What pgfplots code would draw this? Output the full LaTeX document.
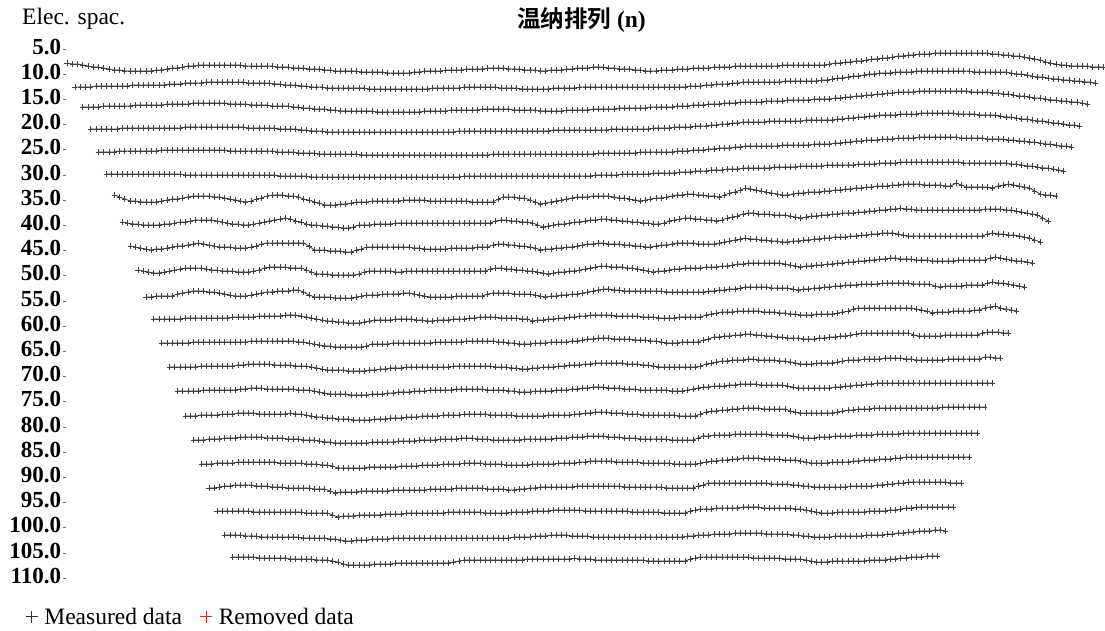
\documentclass[border=0pt]{standalone}
\usepackage{pgfplots}
\pgfplotsset{compat=1.18}
\usepackage{fontspec}
\setmainfont{Liberation Serif}
\newfontfamily\cjk{Noto Sans CJK SC}[BoldFont={Noto Sans CJK SC Bold}]
\definecolor{remred}{RGB}{214,40,40}
\newcommand{\fs}{\fontsize{23.5}{28}\selectfont}
\pgfplotsset{
  rowline/.style={color=black!85, line width=0.7pt, mark=+, mark size=2.6pt,
    mark options={line width=0.75pt, color=black!75}, forget plot},
  /pgfplots/table/rowtab/.style={/pgfplots/table/row sep=\\, /pgfplots/table/header=false,
    /pgfplots/table/y expr={5+(\thisrowno{0}-49)/5.04}},
}
\begin{document}
\begin{tikzpicture}
\useasboundingbox (0,0) rectangle (1105pt,630pt);
\begin{axis}[
  at={(63pt,40pt)}, anchor=south west,
  scale only axis, width=1042pt, height=550pt,
  xmin=-0.7605, xmax=197.338,
  ymin=3.2143, ymax=112.341,
  y dir=reverse,
  clip=false,
  axis line style={draw=none},
  xtick=\empty,
  ytick={5,10,...,110},
  tick pos=left, tick align=inside,
  major tick length=3.5pt,
  y tick style={black!55, line width=0.8pt},
  yticklabel style={font=\fontsize{23}{27}\selectfont\bfseries, yshift=2.3pt, xshift=1.7pt,
    /pgf/number format/.cd, fixed, fixed zerofill, precision=1, assume math mode=true},
  legend style={draw=none, fill=none, inner sep=0pt,
    at={(axis description cs:-0.0359,-0.04855)}, anchor=west,
    legend columns=2, font=\fs,
    /tikz/every odd column/.append style={column sep=4.6pt},
    /tikz/every even column/.append style={column sep=16.1pt}},
  legend cell align=left,
  legend image code/.code={\draw[#1] plot[mark=+, mark size=6pt, mark options={line width=0.8pt}] coordinates {(0pt,0pt)};},
]
\addlegendimage{black!80}
\addlegendentry{Measured data}
\addlegendimage{remred}
\addlegendentry{Removed data}

% row 1 (n=1)
\addplot[rowline] table[rowtab, x expr=\coordindex] {
63\\64\\64\\65\\66\\67\\67\\68\\69\\70\\70\\71\\71\\71\\71\\71\\71\\70\\70\\69\\68\\68\\67\\66\\66\\65\\
65\\65\\65\\65\\65\\65\\65\\65\\66\\66\\66\\66\\66\\66\\67\\67\\67\\68\\68\\68\\69\\69\\69\\70\\70\\71\\71\\
71\\71\\71\\72\\72\\72\\72\\72\\73\\73\\73\\73\\73\\72\\72\\71\\71\\71\\71\\70\\70\\70\\70\\69\\69\\69\\69\\68\\68\\68\\
68\\69\\69\\69\\70\\70\\70\\71\\71\\70\\70\\70\\69\\69\\68\\68\\68\\67\\67\\67\\68\\68\\69\\69\\69\\70\\70\\71\\71\\
71\\70\\70\\70\\69\\69\\69\\68\\68\\68\\68\\67\\67\\67\\67\\66\\66\\66\\66\\66\\66\\66\\66\\66\\65\\65\\65\\65\\65\\65\\65\\65\\65\\
64\\63\\63\\62\\62\\61\\61\\60\\59\\59\\58\\58\\57\\56\\56\\55\\55\\54\\54\\54\\53\\53\\53\\53\\53\\53\\53\\53\\53\\53\\
53\\54\\54\\55\\55\\56\\56\\57\\58\\59\\60\\62\\63\\64\\65\\65\\66\\66\\66\\66\\67\\67\\67\\
};
% row 2
\addplot[rowline] table[rowtab, x expr=\coordindex+1.5] {
87\\87\\87\\87\\86\\86\\86\\86\\86\\86\\86\\85\\85\\85\\85\\85\\
85\\85\\84\\84\\84\\83\\83\\83\\83\\82\\82\\82\\
82\\82\\82\\82\\82\\83\\83\\83\\83\\
83\\84\\84\\85\\85\\85\\86\\86\\87\\87\\87\\88\\
88\\88\\88\\88\\88\\88\\88\\89\\89\\89\\89\\89\\89\\89\\89\\
89\\89\\89\\89\\88\\88\\88\\88\\88\\88\\87\\87\\87\\87\\
87\\87\\87\\88\\88\\88\\88\\89\\89\\89\\
89\\89\\89\\88\\88\\88\\88\\88\\87\\87\\87\\87\\
87\\87\\87\\87\\87\\87\\87\\87\\87\\87\\87\\87\\87\\87\\87\\87\\
87\\86\\86\\86\\85\\85\\84\\84\\84\\83\\83\\82\\82\\
82\\82\\82\\82\\82\\82\\81\\81\\81\\81\\81\\81\\81\\
80\\80\\79\\78\\78\\77\\76\\76\\75\\74\\74\\73\\
73\\73\\72\\72\\72\\72\\71\\71\\71\\71\\
71\\71\\71\\71\\71\\71\\71\\72\\72\\72\\72\\72\\72\\
72\\73\\74\\74\\75\\76\\77\\77\\78\\
79\\79\\80\\80\\81\\81\\82\\82\\83\\
};
% row 3
\addplot[rowline] table[rowtab, x expr=\coordindex+3] {
107\\107\\107\\107\\106\\106\\106\\106\\106\\106\\105\\105\\105\\105\\105\\
105\\104\\104\\104\\104\\104\\103\\103\\103\\103\\103\\
103\\103\\104\\104\\104\\104\\105\\105\\105\\105\\106\\106\\106\\106\\107\\
107\\108\\108\\109\\109\\109\\110\\110\\111\\
111\\111\\111\\111\\111\\111\\112\\112\\112\\112\\112\\112\\112\\
112\\112\\111\\111\\111\\111\\111\\110\\110\\110\\110\\110\\110\\109\\109\\109\\109\\
109\\109\\110\\110\\110\\110\\110\\111\\111\\
111\\111\\111\\110\\110\\110\\110\\110\\109\\109\\109\\109\\109\\108\\108\\108\\108\\108\\108\\107\\107\\107\\107\\
107\\106\\106\\106\\105\\105\\105\\104\\104\\104\\103\\103\\103\\102\\102\\102\\
102\\102\\101\\101\\101\\101\\100\\100\\100\\100\\100\\99\\99\\99\\99\\
98\\98\\97\\97\\96\\96\\95\\95\\94\\94\\93\\
93\\92\\92\\92\\92\\91\\91\\91\\91\\91\\91\\91\\
91\\91\\91\\92\\92\\92\\92\\93\\93\\
94\\94\\95\\96\\96\\97\\98\\98\\99\\100\\
100\\101\\101\\102\\102\\103\\104\\
};
% row 4
\addplot[rowline] table[rowtab, x expr=\coordindex+4.5] {
129\\129\\129\\129\\129\\129\\128\\128\\128\\128\\128\\128\\128\\128\\
128\\128\\128\\128\\127\\127\\127\\127\\127\\127\\127\\127\\127\\
127\\127\\127\\128\\128\\128\\128\\128\\128\\129\\129\\129\\
129\\130\\130\\131\\131\\131\\132\\
132\\132\\132\\132\\132\\132\\132\\132\\132\\132\\132\\132\\132\\132\\132\\132\\
132\\132\\132\\132\\132\\132\\132\\132\\131\\131\\131\\131\\131\\131\\131\\131\\131\\131\\131\\131\\
131\\131\\131\\131\\131\\131\\130\\130\\130\\130\\130\\130\\130\\130\\130\\130\\130\\129\\129\\129\\129\\129\\
129\\129\\129\\128\\128\\128\\128\\127\\127\\127\\127\\126\\126\\
126\\125\\125\\124\\124\\123\\123\\122\\122\\
122\\122\\122\\121\\121\\121\\121\\121\\121\\121\\120\\120\\120\\120\\120\\120\\
119\\119\\118\\118\\117\\117\\116\\116\\115\\115\\
115\\115\\114\\114\\114\\114\\113\\113\\113\\113\\
113\\113\\113\\114\\114\\114\\114\\115\\115\\115\\
115\\116\\117\\117\\118\\119\\119\\120\\
121\\121\\122\\123\\123\\124\\125\\125\\126\\
};
% row 5
\addplot[rowline] table[rowtab, x expr=\coordindex+6] {
152\\152\\152\\152\\151\\151\\151\\151\\151\\151\\151\\151\\150\\150\\150\\150\\150\\150\\150\\
150\\150\\150\\150\\150\\150\\151\\151\\151\\151\\151\\151\\151\\
151\\151\\152\\152\\152\\152\\153\\153\\153\\153\\154\\154\\
154\\154\\154\\154\\154\\154\\155\\155\\155\\155\\155\\155\\155\\155\\155\\155\\
155\\155\\155\\155\\155\\155\\155\\155\\155\\155\\155\\155\\155\\155\\155\\
154\\154\\154\\154\\154\\154\\154\\154\\154\\154\\154\\154\\154\\154\\154\\
154\\154\\154\\154\\154\\153\\153\\153\\153\\153\\153\\153\\153\\152\\152\\152\\152\\152\\152\\
152\\151\\151\\151\\150\\150\\150\\149\\149\\148\\148\\148\\147\\147\\146\\146\\
146\\146\\146\\146\\146\\145\\145\\145\\145\\145\\145\\144\\144\\144\\
144\\143\\143\\142\\142\\141\\141\\140\\140\\140\\139\\
139\\139\\138\\138\\138\\138\\137\\137\\137\\137\\
137\\137\\137\\137\\138\\138\\138\\138\\138\\139\\139\\139\\
139\\140\\140\\141\\141\\142\\142\\143\\144\\144\\145\\146\\146\\147\\
};
% row 6
\addplot[rowline] table[rowtab, x expr=\coordindex+7.5] {
174\\174\\174\\174\\174\\174\\174\\174\\174\\174\\174\\174\\174\\174\\174\\
175\\175\\175\\175\\175\\175\\175\\175\\175\\175\\175\\175\\175\\175\\175\\
175\\175\\175\\176\\176\\176\\176\\176\\176\\177\\177\\177\\177\\
177\\177\\177\\177\\177\\177\\177\\177\\177\\177\\177\\177\\177\\177\\177\\177\\177\\177\\177\\177\\177\\177\\177\\177\\177\\
176\\176\\176\\176\\176\\176\\176\\176\\176\\176\\176\\176\\176\\176\\176\\176\\176\\176\\176\\176\\176\\
176\\176\\176\\176\\175\\175\\175\\175\\175\\174\\174\\174\\174\\174\\174\\173\\173\\173\\173\\
173\\172\\172\\172\\171\\171\\171\\170\\170\\170\\169\\169\\169\\168\\168\\
168\\168\\168\\168\\167\\167\\167\\167\\167\\166\\166\\166\\166\\166\\165\\165\\165\\165\\165\\
165\\164\\164\\164\\164\\163\\163\\163\\163\\162\\162\\162\\162\\
162\\162\\162\\162\\162\\162\\162\\162\\163\\163\\163\\163\\163\\163\\163\\163\\
163\\164\\164\\165\\166\\166\\167\\168\\168\\169\\170\\171\\
};
% row 7
\addplot[rowline] table[rowtab, x expr=\coordindex+9] {
195\\197\\199\\201\\201\\202\\202\\202\\202\\
201\\200\\199\\199\\198\\197\\196\\196\\196\\196\\197\\197\\
198\\199\\200\\201\\202\\201\\199\\198\\196\\195\\195\\195\\196\\196\\
197\\199\\200\\202\\203\\205\\205\\205\\204\\204\\203\\202\\
202\\202\\201\\201\\201\\201\\201\\201\\200\\200\\
200\\200\\200\\201\\201\\201\\201\\201\\201\\201\\201\\202\\202\\202\\202\\202\\
199\\197\\197\\197\\198\\198\\200\\202\\204\\
203\\202\\201\\200\\199\\198\\197\\197\\197\\196\\196\\196\\196\\
197\\198\\198\\199\\200\\201\\200\\199\\198\\198\\197\\
196\\195\\195\\194\\194\\195\\195\\196\\196\\197\\
195\\193\\192\\190\\188\\189\\190\\191\\192\\193\\194\\195\\195\\
194\\193\\193\\192\\192\\192\\191\\191\\190\\190\\189\\189\\188\\188\\187\\
187\\186\\186\\186\\185\\185\\184\\184\\184\\184\\185\\185\\185\\185\\186\\186\\
183\\185\\187\\187\\187\\187\\187\\188\\186\\185\\184\\185\\186\\187\\188\\
191\\194\\195\\195\\196\\
};
% row 8
\addplot[rowline] table[rowtab, x expr=\coordindex+10.5] {
222\\223\\224\\224\\225\\225\\225\\225\\
224\\224\\223\\222\\222\\221\\220\\220\\
220\\220\\221\\222\\223\\224\\224\\225\\225\\
224\\223\\222\\221\\220\\219\\218\\219\\221\\222\\224\\225\\
225\\226\\226\\227\\227\\228\\228\\227\\225\\
225\\225\\224\\224\\224\\224\\223\\223\\223\\223\\
223\\223\\223\\223\\223\\223\\223\\223\\223\\223\\223\\223\\223\\223\\223\\
221\\220\\220\\221\\221\\222\\222\\223\\225\\227\\
226\\225\\224\\224\\223\\222\\222\\221\\220\\220\\219\\
219\\220\\220\\221\\221\\222\\222\\223\\223\\224\\224\\
223\\221\\220\\219\\218\\218\\219\\219\\220\\220\\221\\
220\\218\\217\\216\\214\\213\\213\\214\\214\\214\\215\\215\\215\\
216\\217\\218\\217\\216\\216\\215\\215\\214\\
214\\213\\213\\213\\212\\212\\211\\211\\210\\210\\
209\\209\\208\\209\\209\\210\\
210\\210\\210\\210\\210\\210\\210\\210\\
210\\210\\210\\210\\209\\209\\209\\209\\
210\\210\\211\\212\\213\\214\\215\\218\\221\\
};
% row 9
\addplot[rowline] table[rowtab, x expr=\coordindex+12] {
246\\247\\248\\249\\250\\
249\\249\\248\\247\\246\\246\\245\\244\\243\\
244\\245\\246\\247\\247\\247\\248\\248\\248\\
247\\246\\244\\243\\243\\243\\243\\243\\243\\243\\243\\
246\\250\\250\\250\\251\\251\\251\\252\\252\\250\\249\\247\\
247\\247\\247\\247\\247\\247\\247\\247\\
248\\248\\249\\249\\249\\249\\249\\248\\248\\248\\248\\248\\247\\247\\247\\
245\\244\\244\\245\\245\\246\\246\\247\\248\\250\\
249\\249\\248\\248\\247\\247\\246\\245\\244\\244\\243\\
243\\244\\244\\244\\245\\245\\246\\246\\247\\247\\
246\\245\\245\\244\\243\\243\\243\\243\\244\\244\\244\\244\\
243\\242\\241\\240\\239\\238\\239\\239\\240\\240\\241\\241\\242\\242\\
241\\241\\240\\240\\239\\239\\238\\238\\237\\237\\237\\
236\\236\\235\\235\\234\\234\\233\\233\\233\\234\\235\\236\\
236\\236\\236\\236\\236\\236\\236\\236\\236\\236\\236\\236\\236\\236\\
234\\233\\234\\234\\235\\235\\236\\237\\238\\240\\242\\
};
% row 10
\addplot[rowline] table[rowtab, x expr=\coordindex+13.5] {
270\\271\\272\\273\\273\\272\\271\\270\\269\\268\\268\\268\\
268\\269\\270\\270\\271\\271\\271\\272\\272\\272\\
271\\270\\268\\267\\267\\267\\267\\268\\268\\268\\
270\\272\\274\\274\\274\\275\\275\\275\\275\\275\\274\\272\\271\\
271\\271\\271\\271\\272\\272\\271\\271\\
271\\271\\271\\271\\271\\271\\271\\271\\271\\271\\271\\271\\271\\271\\
269\\268\\268\\269\\269\\270\\270\\271\\271\\272\\273\\274\\
273\\272\\272\\271\\271\\270\\269\\268\\267\\266\\
266\\267\\267\\267\\268\\268\\269\\270\\271\\272\\
271\\271\\270\\269\\269\\268\\268\\268\\268\\267\\267\\267\\
266\\266\\265\\264\\264\\263\\263\\263\\263\\263\\263\\263\\
264\\265\\266\\267\\266\\266\\265\\265\\264\\264\\263\\263\\262\\
262\\261\\261\\260\\260\\259\\259\\258\\
258\\259\\259\\259\\260\\260\\260\\261\\261\\
261\\261\\261\\260\\260\\260\\260\\260\\260\\
258\\257\\258\\259\\260\\261\\261\\262\\263\\
};
% row 11
\addplot[rowline] table[rowtab, x expr=\coordindex+15] {
297\\297\\296\\296\\296\\296\\294\\293\\292\\291\\291\\291\\292\\292\\
293\\294\\295\\296\\296\\296\\295\\294\\293\\292\\
292\\291\\291\\291\\290\\290\\292\\295\\297\\
297\\297\\297\\298\\298\\298\\298\\297\\296\\295\\
295\\295\\294\\294\\294\\294\\293\\293\\294\\295\\296\\297\\
297\\297\\297\\297\\296\\296\\296\\296\\296\\296\\294\\293\\
293\\293\\293\\294\\294\\294\\294\\295\\296\\297\\
296\\296\\295\\295\\294\\294\\293\\292\\291\\290\\289\\
289\\290\\290\\291\\291\\
291\\291\\291\\291\\291\\291\\292\\292\\292\\292\\292\\292\\292\\
292\\291\\291\\290\\290\\289\\289\\288\\287\\
287\\287\\287\\287\\288\\288\\288\\288\\289\\290\\
289\\289\\288\\288\\287\\287\\286\\286\\285\\
285\\285\\284\\284\\284\\284\\283\\283\\
283\\283\\283\\283\\284\\284\\284\\284\\286\\287\\
286\\286\\286\\286\\285\\285\\285\\285\\283\\282\\
283\\283\\284\\285\\286\\287\\
};
% row 12
\addplot[rowline] table[rowtab, x expr=\coordindex+16.5] {
319\\319\\319\\319\\319\\319\\318\\318\\318\\318\\318\\318\\318\\318\\
318\\317\\317\\317\\317\\317\\316\\316\\316\\316\\316\\315\\315\\315\\
316\\317\\318\\319\\320\\321\\321\\322\\322\\323\\323\\323\\322\\321\\
320\\320\\320\\320\\319\\319\\319\\319\\320\\320\\321\\321\\
320\\320\\320\\319\\319\\319\\318\\318\\317\\317\\
317\\317\\318\\318\\318\\318\\319\\319\\321\\320\\320\\319\\319\\
318\\318\\317\\317\\316\\316\\315\\315\\
315\\315\\315\\316\\316\\316\\316\\316\\317\\317\\317\\318\\318\\318\\
318\\317\\317\\317\\317\\317\\315\\314\\313\\
312\\312\\312\\311\\311\\311\\311\\311\\312\\312\\312\\313\\313\\
314\\314\\315\\315\\315\\314\\314\\314\\314\\
313\\312\\311\\309\\308\\308\\308\\308\\308\\308\\308\\308\\308\\308\\308\\
309\\310\\311\\313\\312\\312\\312\\311\\311\\311\\311\\310\\310\\
308\\307\\306\\308\\309\\310\\311\\
};
% row 13
\addplot[rowline] table[rowtab, x expr=\coordindex+18] {
343\\343\\343\\343\\343\\343\\342\\342\\342\\342\\342\\342\\342\\
342\\342\\342\\342\\341\\341\\341\\341\\341\\341\\341\\341\\341\\
342\\342\\343\\344\\345\\346\\346\\347\\347\\347\\347\\347\\347\\
346\\344\\344\\344\\344\\343\\343\\343\\343\\
343\\343\\343\\343\\342\\342\\342\\342\\342\\342\\341\\341\\341\\341\\
341\\341\\342\\342\\343\\343\\344\\344\\
344\\343\\343\\343\\342\\342\\342\\342\\
341\\341\\340\\339\\339\\338\\
338\\338\\339\\339\\339\\339\\340\\340\\340\\
341\\341\\342\\343\\343\\343\\342\\342\\342\\342\\
340\\339\\337\\337\\336\\336\\335\\335\\334\\
334\\335\\335\\336\\336\\337\\337\\338\\338\\
338\\339\\339\\339\\338\\338\\337\\337\\336\\336\\
335\\334\\333\\333\\333\\333\\333\\333\\333\\333\\333\\333\\
335\\336\\336\\336\\336\\336\\335\\335\\335\\335\\335\\335\\335\\
333\\332\\332\\332\\333\\333\\
};
% row 14
\addplot[rowline] table[rowtab, x expr=\coordindex+19.5] {
367\\367\\367\\367\\367\\367\\366\\366\\366\\366\\366\\366\\366\\
365\\365\\364\\364\\364\\
364\\364\\365\\365\\365\\365\\366\\366\\366\\367\\368\\369\\370\\
370\\370\\370\\371\\371\\371\\371\\370\\
370\\369\\369\\368\\368\\368\\367\\367\\
367\\367\\367\\367\\367\\367\\367\\366\\366\\366\\366\\366\\366\\366\\
366\\367\\367\\367\\368\\368\\369\\369\\368\\368\\367\\367\\
367\\366\\366\\365\\365\\365\\364\\364\\363\\363\\
363\\363\\363\\363\\364\\364\\364\\365\\365\\366\\367\\
367\\367\\367\\367\\367\\367\\367\\
366\\364\\363\\362\\361\\361\\360\\360\\360\\359\\
359\\360\\360\\360\\360\\361\\361\\362\\363\\364\\
364\\364\\363\\363\\363\\363\\362\\361\\360\\
360\\360\\359\\359\\359\\359\\358\\358\\358\\358\\359\\359\\360\\
360\\360\\360\\360\\360\\359\\359\\359\\359\\359\\359\\359\\
357\\357\\358\\358\\
};
% row 15
\addplot[rowline] table[rowtab, x expr=\coordindex+21] {
391\\391\\391\\391\\391\\390\\390\\390\\390\\390\\390\\390\\389\\389\\388\\
388\\388\\389\\389\\389\\389\\389\\389\\390\\390\\390\\
391\\392\\393\\394\\394\\394\\394\\395\\395\\395\\395\\
394\\394\\394\\393\\393\\392\\392\\392\\
391\\391\\391\\390\\390\\390\\390\\390\\389\\389\\389\\389\\
389\\389\\390\\390\\390\\390\\391\\391\\392\\392\\
392\\391\\391\\391\\391\\390\\390\\390\\389\\389\\388\\388\\387\\387\\
387\\388\\388\\388\\389\\389\\389\\390\\390\\
390\\390\\390\\390\\391\\391\\391\\390\\389\\388\\387\\
387\\386\\386\\386\\385\\385\\384\\384\\
384\\384\\385\\385\\385\\385\\385\\386\\387\\388\\
388\\388\\388\\388\\388\\388\\387\\387\\386\\
386\\385\\385\\384\\384\\383\\383\\
383\\383\\383\\383\\383\\383\\383\\383\\383\\383\\383\\383\\383\\383\\383\\383\\383\\383\\383\\383\\383\\
};
% row 16
\addplot[rowline] table[rowtab, x expr=\coordindex+22.5] {
416\\416\\416\\415\\415\\415\\415\\414\\414\\414\\413\\413\\413\\
413\\414\\414\\414\\414\\414\\414\\413\\414\\414\\415\\416\\
417\\417\\418\\418\\419\\419\\419\\420\\420\\420\\420\\
419\\419\\419\\418\\418\\418\\417\\417\\
417\\416\\416\\416\\416\\415\\415\\415\\415\\414\\414\\414\\
414\\414\\415\\415\\415\\415\\415\\416\\416\\416\\
416\\416\\416\\415\\415\\415\\415\\415\\
414\\414\\413\\413\\412\\412\\
412\\413\\413\\413\\414\\414\\414\\415\\415\\
415\\415\\415\\415\\415\\416\\416\\416\\416\\
414\\412\\411\\411\\410\\410\\409\\409\\408\\408\\
408\\408\\409\\409\\409\\409\\409\\411\\412\\413\\
413\\413\\413\\413\\413\\413\\412\\411\\410\\
410\\409\\409\\409\\408\\408\\408\\408\\
408\\408\\408\\408\\408\\408\\408\\408\\408\\407\\407\\407\\407\\407\\407\\407\\407\\407\\
};
% row 17
\addplot[rowline] table[rowtab, x expr=\coordindex+24] {
440\\440\\440\\439\\439\\439\\438\\438\\438\\437\\437\\
437\\437\\437\\438\\438\\438\\438\\439\\439\\
439\\440\\440\\440\\441\\442\\442\\443\\
443\\443\\443\\443\\443\\443\\442\\442\\442\\442\\442\\441\\441\\441\\
441\\440\\440\\440\\440\\439\\439\\439\\439\\438\\438\\
438\\439\\439\\439\\440\\440\\
440\\440\\440\\440\\439\\439\\439\\439\\439\\
439\\438\\438\\438\\437\\437\\437\\436\\436\\436\\
436\\437\\437\\437\\438\\438\\438\\439\\439\\
439\\439\\439\\439\\440\\440\\440\\440\\440\\
438\\436\\436\\435\\435\\435\\435\\434\\434\\434\\
434\\434\\434\\434\\435\\435\\435\\435\\
436\\437\\438\\438\\438\\437\\437\\437\\
436\\436\\436\\436\\435\\435\\435\\
435\\434\\434\\434\\434\\434\\433\\433\\433\\
433\\433\\433\\433\\433\\433\\433\\433\\433\\433\\433\\433\\
};
% row 18
\addplot[rowline] table[rowtab, x expr=\coordindex+25.5] {
464\\464\\464\\463\\463\\463\\463\\462\\462\\462\\462\\
462\\462\\462\\462\\463\\463\\463\\463\\
463\\464\\464\\464\\465\\465\\466\\468\\
468\\468\\468\\468\\468\\467\\467\\467\\467\\467\\467\\466\\466\\466\\
466\\465\\465\\465\\465\\464\\464\\464\\464\\463\\463\\
463\\463\\464\\464\\464\\464\\465\\465\\465\\
465\\465\\464\\464\\464\\464\\464\\463\\463\\463\\463\\462\\462\\
461\\461\\461\\
461\\461\\462\\462\\462\\462\\462\\463\\463\\
463\\463\\463\\463\\464\\464\\464\\464\\464\\
463\\462\\461\\461\\460\\460\\459\\459\\458\\458\\
458\\458\\459\\459\\459\\459\\460\\460\\460\\
461\\462\\463\\463\\463\\463\\462\\462\\462\\462\\
461\\461\\460\\460\\460\\459\\459\\459\\458\\458\\457\\457\\
457\\457\\457\\457\\457\\457\\457\\457\\457\\457\\457\\
};
% row 19
\addplot[rowline] table[rowtab, x expr=\coordindex+27] {
488\\488\\487\\486\\486\\485\\485\\
485\\485\\486\\486\\486\\487\\487\\487\\488\\488\\
488\\488\\488\\489\\489\\489\\491\\493\\
492\\492\\492\\492\\491\\491\\491\\491\\491\\491\\490\\490\\490\\490\\
490\\490\\490\\489\\489\\489\\489\\489\\488\\488\\488\\
488\\488\\488\\489\\489\\489\\489\\490\\490\\
489\\489\\488\\488\\487\\487\\
487\\487\\487\\487\\487\\486\\486\\486\\486\\486\\
486\\486\\486\\486\\487\\487\\487\\487\\487\\
487\\487\\487\\488\\488\\488\\488\\488\\488\\
486\\485\\483\\483\\483\\483\\483\\483\\483\\483\\
483\\483\\483\\483\\484\\484\\484\\484\\
485\\485\\486\\486\\487\\487\\
487\\487\\487\\487\\487\\486\\486\\486\\486\\
486\\485\\485\\484\\484\\483\\483\\482\\482\\
482\\482\\482\\482\\482\\482\\483\\483\\483\\
};
% row 20
\addplot[rowline] table[rowtab, x expr=\coordindex+28.5] {
511\\511\\511\\511\\511\\511\\511\\512\\512\\512\\512\\
512\\512\\512\\512\\512\\512\\513\\513\\513\\513\\513\\
515\\517\\
516\\516\\516\\515\\515\\515\\515\\515\\514\\514\\514\\514\\513\\513\\
513\\513\\513\\513\\513\\513\\512\\512\\512\\512\\512\\
512\\512\\513\\513\\513\\513\\
513\\512\\512\\512\\512\\511\\511\\511\\511\\510\\510\\
510\\510\\510\\510\\511\\511\\511\\511\\
511\\511\\511\\511\\511\\512\\512\\512\\512\\512\\512\\513\\513\\513\\513\\513\\
511\\510\\509\\
509\\509\\508\\508\\508\\508\\508\\507\\507\\
507\\507\\508\\508\\508\\508\\508\\508\\509\\509\\
510\\511\\512\\513\\
513\\513\\512\\512\\512\\512\\512\\512\\511\\511\\511\\511\\
510\\510\\509\\508\\508\\507\\
507\\507\\507\\507\\507\\507\\507\\
};
% row 21
\addplot[rowline] table[rowtab, x expr=\coordindex+30] {
535\\535\\535\\535\\536\\536\\536\\537\\537\\
537\\537\\537\\537\\537\\537\\538\\538\\538\\538\\538\\
539\\539\\540\\541\\
541\\540\\540\\540\\539\\539\\539\\539\\538\\538\\538\\538\\
538\\538\\538\\538\\538\\538\\538\\538\\538\\538\\538\\538\\538\\538\\538\\538\\538\\
538\\538\\537\\537\\537\\537\\536\\536\\536\\535\\535\\535\\
535\\536\\536\\536\\536\\537\\537\\
537\\537\\537\\537\\537\\537\\537\\537\\537\\537\\537\\537\\537\\537\\537\\537\\
536\\536\\535\\
535\\535\\534\\534\\534\\534\\533\\533\\533\\
533\\533\\533\\534\\534\\534\\534\\534\\535\\535\\
536\\536\\537\\
537\\537\\537\\536\\536\\536\\536\\536\\536\\535\\535\\535\\535\\
534\\534\\533\\533\\532\\532\\
531\\531\\531\\530\\530\\531\\
};
% row 22
\addplot[rowline] table[rowtab, x expr=\coordindex+31.5] {
557\\557\\557\\557\\557\\558\\558\\558\\558\\558\\558\\559\\559\\559\\559\\559\\560\\560\\560\\
561\\562\\564\\565\\
565\\565\\565\\565\\564\\564\\564\\564\\563\\563\\563\\563\\
563\\563\\563\\563\\563\\563\\563\\
562\\561\\560\\560\\
560\\560\\560\\560\\560\\560\\560\\560\\560\\560\\559\\559\\559\\559\\559\\559\\559\\559\\559\\
558\\
559\\559\\559\\560\\560\\
560\\560\\560\\560\\560\\560\\560\\560\\561\\561\\561\\561\\561\\561\\561\\561\\
559\\558\\557\\
557\\557\\557\\557\\557\\557\\557\\557\\557\\
558\\558\\558\\558\\558\\558\\559\\559\\559\\559\\
560\\561\\562\\
562\\562\\561\\561\\561\\561\\561\\561\\561\\560\\560\\560\\560\\
559\\559\\558\\558\\557\\557\\
557\\556\\556\\556\\
};
\end{axis}
\node[anchor=base west, font=\fs, inner sep=0pt] at (22pt,605pt) {Elec. spac.};
\node[anchor=base, font=\fs\bfseries, inner sep=0pt] at (581.5pt,602.5pt) {{\cjk 温纳排列} (n)};
\end{tikzpicture}
\end{document}
